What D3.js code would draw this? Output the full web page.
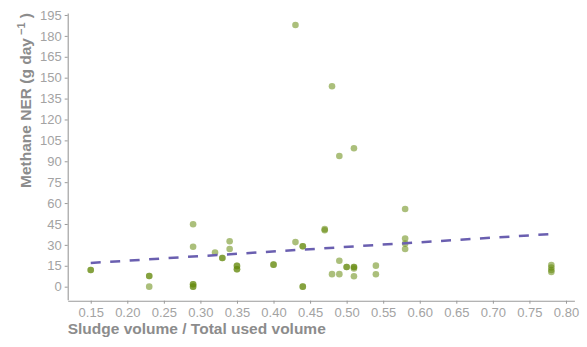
<!DOCTYPE html>
<html>
<head>
    <title>Methane NER vs sludge volume ratio</title>
    <script src="https://d3js.org/d3.v7.min.js"></script>
    <style>
        body {
            margin: 0;
            background: #fff;
            font-family: "Liberation Sans", Arial, sans-serif;
        }
        .tick text {
            fill: #a3a3a3;
            font-size: 13px;
        }
        .tick line, .domain {
            stroke: #9a9a9a;
        }
        .axis-title {
            fill: #8c8c8c;
            font-size: 15.5px;
            font-weight: bold;
        }
    </style>
</head>
<body>
    <div id="chart"></div>
    <script>
        // sludge volume / total used volume
        const ratio = [0.15, 0.15, 0.23, 0.23, 0.23, 0.29, 0.29, 0.29, 0.29, 0.29, 0.29,
            0.32, 0.33, 0.33, 0.34, 0.34, 0.35, 0.35, 0.35, 0.35, 0.40, 0.40,
            0.43, 0.43, 0.44, 0.44, 0.44, 0.44, 0.47, 0.47, 0.48, 0.48,
            0.49, 0.49, 0.49, 0.50, 0.50, 0.51, 0.51, 0.51, 0.51, 0.51,
            0.54, 0.54, 0.58, 0.58, 0.58, 0.58, 0.78, 0.78, 0.78, 0.78];
        // methane NER (g/day)
        const methane = [12.0, 12.0, 7.7, 7.7, 0, 44.8, 28.7, 1.7, 1.7, 0, 0,
            24.5, 20.6, 20.6, 32.6, 27.0, 14.9, 14.9, 12.5, 12.5, 15.8, 15.8,
            187.8, 32.0, 29.0, 29.0, 0, 0, 40.5, 41.3, 143.9, 9.0,
            93.8, 18.6, 9.0, 14.1, 14.1, 99.3, 14.1, 14.1, 13.0, 7.5,
            15.1, 8.9, 55.8, 34.5, 30.9, 27.0, 15.5, 13.8, 12.0, 10.6];

        // fitted linear trend read at the ends of the data range
        const trendX = [0.15, 0.78];
        const trendY = [17.0, 37.8];

        const xTicks = d3.range(15, 81, 5).map(d => d / 100);
        const yTicks = d3.range(0, 196, 15);

        const width = 587, height = 347;
        const svg = d3.select("#chart").append("svg")
            .attr("width", width)
            .attr("height", height);

        const x = d3.scaleLinear()
            .domain([0.1185, 0.8115])
            .range([67.7, 574.4]);
        const y = d3.scaleLinear()
            .domain([-9.35, 196.35])
            .range([299.7, 13.1]);

        // axes
        svg.append("g")
            .attr("transform", `translate(0,${y.range()[0] + 1})`)
            .call(d3.axisBottom(x).tickValues(xTicks).tickFormat(d3.format(".2f"))
                .tickSize(3).tickSizeOuter(0).tickPadding(4))
            .call(g => g.select(".domain").attr("stroke-width", 1.1));

        svg.append("g")
            .attr("transform", `translate(${x.range()[0]},0)`)
            .call(d3.axisLeft(y).tickValues(yTicks).tickFormat(d3.format("d"))
                .tickSize(3).tickSizeOuter(0).tickPadding(3))
            .call(g => g.select(".domain").attr("stroke-width", 1.1));

        svg.selectAll(".tick text").attr("font-family", null);

        // points
        svg.append("g")
            .selectAll("circle")
            .data(ratio.map((r, i) => ({ r: r, m: methane[i] })))
            .enter()
            .append("circle")
            .attr("cx", d => x(d.r))
            .attr("cy", d => y(d.m))
            .attr("r", 3.3)
            .attr("fill", "#668b0f")
            .attr("fill-opacity", 0.55);

        // trend line
        const line = d3.line()
            .x(d => x(d[0]))
            .y(d => y(d[1]));
        svg.append("path")
            .datum(trendX.map((t, i) => [t, trendY[i]]))
            .attr("d", line)
            .attr("fill", "none")
            .attr("stroke", "#6a5fb0")
            .attr("stroke-width", 2.5)
            .attr("stroke-dasharray", "10,9.5");

        // axis titles
        svg.append("text")
            .attr("class", "axis-title")
            .attr("x", x.range()[0])
            .attr("y", 334)
            .text("Sludge volume / Total used volume");

        const yTitle = svg.append("text")
            .attr("class", "axis-title")
            .attr("transform", "translate(31,13) rotate(-90)")
            .attr("text-anchor", "end");
        yTitle.append("tspan").text("Methane NER (g day");
        yTitle.append("tspan").attr("font-size", "11px").attr("dy", -6).text(" \u22121");
        yTitle.append("tspan").attr("dy", 6).text(" )");
    </script>
</body>
</html>
